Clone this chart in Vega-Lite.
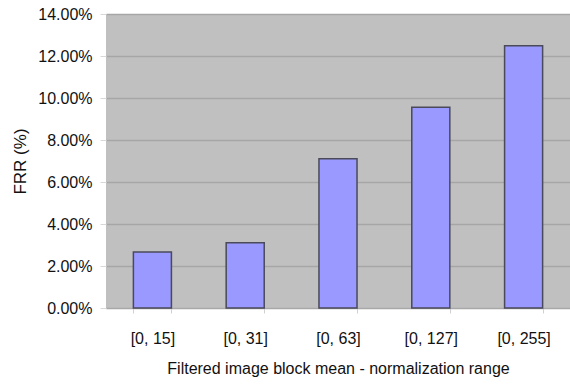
{
  "$schema": "https://vega.github.io/schema/vega-lite/v6.json",
  "autosize": "none",
  "width": 464,
  "height": 294,
  "padding": {"left": 106, "top": 14, "right": 0, "bottom": 76},
  "background": "white",
  "config": {
    "view": {"fill": "#C0C0C0", "stroke": null},
    "font": "Liberation Sans"
  },
  "data": {
    "values": [
      {"range": "[0, 15]", "frr": 0.0267},
      {"range": "[0, 31]", "frr": 0.0311},
      {"range": "[0, 63]", "frr": 0.0711},
      {"range": "[0, 127]", "frr": 0.0956},
      {"range": "[0, 255]", "frr": 0.1249}
    ]
  },
  "mark": {"type": "bar", "fill": "#9999FF", "stroke": "#4a4a5a", "strokeWidth": 1.5},
  "encoding": {
    "x": {
      "field": "range",
      "type": "nominal",
      "sort": null,
      "scale": {"paddingInner": 0.59, "paddingOuter": 0.295},
      "axis": {
        "title": "Filtered image block mean - normalization range",
        "titleFontSize": 16,
        "titleFontWeight": "normal",
        "titleColor": "#111",
        "titlePadding": 14,
        "labelAngle": 0,
        "labelFontSize": 16,
        "labelColor": "#111",
        "labelPadding": 17,
        "tickBand": "extent",
        "tickSize": 5,
        "tickColor": "#d0d0d0",
        "domainColor": "#a8a8a8",
        "grid": false
      }
    },
    "y": {
      "field": "frr",
      "type": "quantitative",
      "scale": {"domain": [0, 0.14], "nice": false},
      "axis": {
        "title": "FRR (%)",
        "titleFontSize": 17,
        "titleFontWeight": "normal",
        "titleColor": "#111",
        "titlePadding": 8,
        "values": [0, 0.02, 0.04, 0.06, 0.08, 0.1, 0.12, 0.14],
        "format": ".2%",
        "labelFontSize": 16,
        "labelColor": "#111",
        "labelPadding": 8,
        "tickSize": 6,
        "tickColor": "#d8d8d8",
        "domain": false,
        "grid": true,
        "gridColor": "#a6a6a6",
        "gridWidth": 1.5
      }
    }
  }
}
